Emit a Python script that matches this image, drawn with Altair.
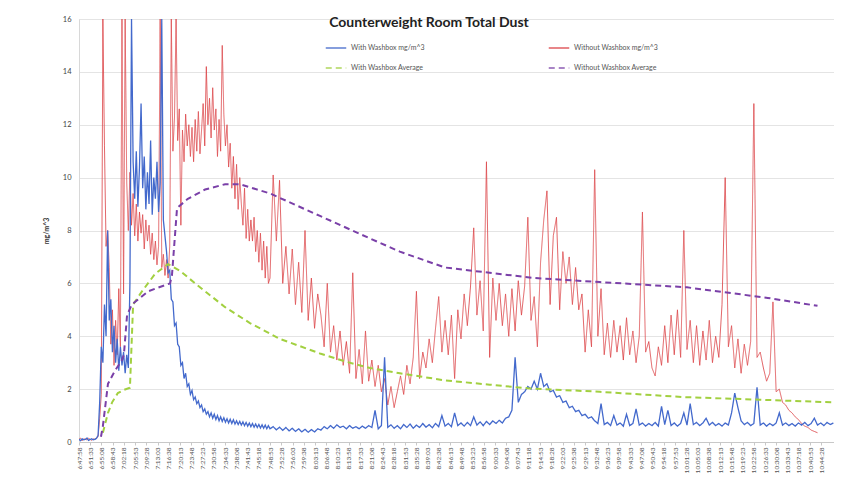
import altair as alt
import pandas as pd

chart_title = "Counterweight Room Total Dust"

# ---- tick labels (every 3 min 35 s) ----
tick_labels = [
    "6:47:58", "6:51:33", "6:55:08", "6:58:43", "7:02:18", "7:05:53", "7:09:28", "7:13:03",
    "7:16:38", "7:20:13", "7:23:48", "7:27:23", "7:30:58", "7:34:33", "7:38:08", "7:41:43",
    "7:45:18", "7:48:53", "7:52:28", "7:56:03", "7:59:38", "8:03:13", "8:06:48", "8:10:23",
    "8:13:58", "8:17:33", "8:21:08", "8:24:43", "8:28:18", "8:31:53", "8:35:28", "8:39:03",
    "8:42:38", "8:46:13", "8:49:48", "8:53:23", "8:56:58", "9:00:33", "9:04:08", "9:07:43",
    "9:11:18", "9:14:53", "9:18:28", "9:22:03", "9:25:38", "9:29:13", "9:32:48", "9:36:23",
    "9:39:58", "9:43:33", "9:47:08", "9:50:43", "9:54:18", "9:57:53", "10:01:28", "10:05:03",
    "10:08:38", "10:12:13", "10:15:48", "10:19:23", "10:22:58", "10:26:33", "10:30:08",
    "10:33:43", "10:37:18", "10:40:53", "10:44:28",
]
tick_step_s = 215

# readings were taken on a grid of ~1.014 min (every second reading in the first hour)
STEP_MIN = 1.014

# ---- Without Washbox (mg/m^3) ----
red_fine = [
    0.1, 0.15, 0.05, 0.12, 0.1, 0.08, 0.14, 0.1, 0.06, 0.12, 0.1, 0.15, 0.2,
    0.9, 1.8, 16, 11.2, 7.4, 8.0, 6.6,
    3.7, 5.0, 2.9, 4.6, 3.3, 5.8, 3.6,
    16, 5.6, 16, 9.8,
    8.0, 10.2, 8.2, 9.4, 7.8, 9.0, 7.6, 8.7, 7.9, 8.6, 7.3, 8.4, 7.6, 8.2, 7.1, 7.9, 6.9, 7.6, 6.7, 7.4,
    16, 6.6, 7.1, 6.3, 6.9, 6.2, 7.4, 16,
    11.0, 12.3, 16, 11.4, 12.6, 8.2, 11.8, 10.6, 12.4, 11.2, 12.0, 10.8, 11.9, 10.6, 12.2, 11.0,
    12.5, 10.9, 11.8, 12.8, 11.2, 14.2, 12.0, 13.0, 11.5, 13.4, 11.8, 12.6, 10.8, 12.2, 11.0, 15.0,
    12.4, 11.2, 12.0, 10.4, 11.3, 9.6, 10.8, 9.2, 10.5, 8.8, 10.0, 9.0, 8.2, 9.6, 7.7, 8.8, 7.6,
    8.4, 7.6, 8.5, 7.2, 8.0, 6.8, 7.9, 6.5, 7.6, 6.2, 7.4, 6.0,
]
red_coarse = [
    6.2, 10.1, 7.6, 9.9, 6.0, 7.4,
    5.6, 7.3, 5.2, 6.8, 4.9, 8.0, 4.6, 6.2, 4.3, 5.6,
    4.8, 3.6, 6.0, 3.4, 4.4, 3.1, 4.2, 2.9, 3.8, 2.6, 6.4, 2.4, 3.5, 2.2, 4.2, 2.3,
    3.1, 2.1, 2.9, 1.9, 2.4, 1.4, 2.1, 1.3, 1.9,
    2.5, 1.8, 2.9, 2.2, 3.2, 5.7, 2.4, 3.4,
    2.8, 3.9, 3.0, 4.3, 5.5, 3.4, 4.6, 3.3, 4.8, 2.4, 5.0, 3.9,
    5.6, 4.4, 5.9, 8.1, 4.8, 6.1, 4.2, 10.6,
    3.2, 6.2, 4.6, 6.0, 4.4, 5.6, 4.0, 5.8, 4.2, 6.1, 4.8, 5.9, 8.5, 4.6, 5.5,
    3.6, 6.8, 8.4, 9.5, 5.2, 7.8, 8.5, 5.0, 7.2, 6.0, 7.0, 5.2, 6.6, 5.0,
    5.6, 3.4, 5.0, 3.6, 10.3,
    4.0, 5.8, 3.3, 4.5, 3.2, 4.6, 3.4, 4.4, 3.1, 4.7, 3.3, 4.2, 3.0, 4.0, 8.7, 3.4, 3.8, 2.8, 2.5,
    3.6, 2.9, 4.4, 3.0, 4.8, 3.3, 5.0, 3.2, 8.0, 3.5, 4.6,
    3.0, 4.4, 2.9, 4.2, 3.1, 4.6, 3.0, 4.0, 3.2, 5.2, 10.0, 3.6, 4.4,
    2.8, 3.9, 2.6, 3.7, 2.9, 3.8, 12.8, 3.2, 3.4,
    2.8, 2.3, 2.6, 5.3, 1.9, 2.0, 1.5, 1.4,
    1.2, 1.1, 0.95, 0.85, 0.7, 0.6, 0.55, 0.45, 0.4, 0.35,
]

# ---- With Washbox (mg/m^3) ----
blue_fine = [
    0.1, 0.05, 0.12, 0.08, 0.1, 0.15, 0.06, 0.1, 0.12, 0.08, 0.1, 0.14, 0.25,
    1.5, 3.6, 3.0, 5.2, 4.0, 8.0, 4.6, 5.4, 3.4, 4.4, 3.0, 3.9, 2.7, 3.6, 2.9, 3.4, 2.6, 3.3, 2.8,
    6.0, 16, 10.6, 9.2, 11.0, 8.9, 10.4, 12.8, 9.6, 10.8, 8.8, 10.2, 9.0, 11.4, 8.6, 10.0, 9.2,
    10.6, 8.7, 9.8, 16, 8.4,
    7.8, 7.2, 6.4, 6.5, 5.4, 5.3, 4.4, 4.5, 3.7, 3.6, 2.9, 3.0, 2.4, 2.6, 2.1, 2.2, 1.8, 1.95,
    1.6, 1.7, 1.45, 1.55, 1.3, 1.4, 1.15, 1.25, 1.05, 1.15,
    0.95, 1.1, 0.9, 1.05, 0.85, 1.0, 0.8, 0.95, 0.78, 0.92, 0.75, 0.88, 0.72, 0.86, 0.7, 0.84,
    0.68, 0.8, 0.66, 0.78, 0.64, 0.76, 0.62, 0.74, 0.6, 0.72, 0.58, 0.7, 0.56, 0.68, 0.55, 0.66,
    0.53, 0.65, 0.52, 0.64, 0.5, 0.62,
]
blue_coarse = [
    0.5, 0.58, 0.46, 0.56, 0.44, 0.55, 0.42, 0.52, 0.4, 0.5, 0.38, 0.48, 0.37, 0.47, 0.38, 0.5,
    0.45, 0.58, 0.5, 0.62, 0.52, 0.65, 0.55, 0.6, 0.5, 0.62, 0.52, 0.58, 0.5, 0.6, 0.52, 0.62,
    0.55, 1.2, 0.5, 0.62, 3.2, 0.55, 0.65, 0.52, 0.62, 0.5, 0.66, 0.55, 0.68, 0.52, 0.64, 0.55,
    0.7, 0.56, 0.66, 0.54, 0.7, 0.58, 1.0, 0.6, 0.7, 0.58, 1.1, 0.62, 0.72, 0.6, 0.74, 0.62,
    0.95, 0.64, 0.76, 0.62, 0.78, 0.66, 0.8, 0.7, 0.82, 0.72, 0.9,
    0.95, 1.2, 3.2, 1.5, 1.8, 1.9, 2.1, 2.0, 2.3, 2.0, 2.6, 2.1, 2.2, 1.9, 1.95, 1.7, 1.75,
    1.5, 1.55, 1.3, 1.35, 1.15, 1.2, 1.0, 1.05, 0.9, 0.95, 0.8,
    0.7, 1.45, 0.66, 0.74, 0.62, 1.0, 0.64, 0.72, 0.6, 1.05,
    0.62, 0.7, 1.25, 0.64, 0.72, 0.6, 0.7, 0.62, 0.74, 0.6,
    1.35, 0.66, 1.2, 0.62, 0.72, 0.6, 0.7, 1.1, 0.64, 1.45,
    0.66, 0.74, 0.62, 0.72, 0.9, 0.64, 0.74, 0.62, 0.7, 0.6,
    0.72, 0.64, 1.1, 1.85, 1.3, 0.8, 0.66, 0.74, 0.62, 0.7,
    2.07, 0.64, 0.72, 0.6, 0.7, 0.62, 0.72, 1.1, 0.64, 0.72,
    0.62, 0.7, 0.6, 0.72, 0.64, 0.74, 0.62, 0.7, 0.9, 0.64,
    0.72, 0.62, 0.74, 0.66, 0.72,
]

# ---- running averages (position in reading steps, mg/m^3) ----
green_t = [7.5, 9.1, 10.4, 12.2, 14.1, 16.0, 17.0, 19.8, 23.9, 28.0, 32.0, 37.0, 45.9, 53.7,
           63.1, 75.7, 83.5, 91.4, 100.8, 115.0, 129.0, 141.0, 163.6, 189.7, 213.9, 236.5]
green_v = [0.35, 1.1, 1.5, 1.85, 1.97, 2.05, 5.2, 5.7, 6.36, 6.73, 6.45, 5.95, 5.1, 4.5,
           3.9, 3.35, 3.05, 2.8, 2.6, 2.33, 2.17, 2.03, 1.9, 1.7, 1.6, 1.5]
purple_t = [6.9, 7.5, 9.1, 11.3, 13.5, 14.1, 15.1, 16.6, 21.7, 28.6, 29.2, 30.8, 34.2, 39.6,
            45.9, 50.6, 60.0, 75.7, 91.4, 100.8, 115.0, 143.2, 163.6, 191.0, 216.4, 232.0]
purple_v = [0.2, 0.6, 2.2, 2.7, 3.1, 3.3, 4.8, 5.2, 5.7, 6.0, 6.3, 8.85, 9.2, 9.55,
            9.75, 9.75, 9.4, 8.55, 7.7, 7.2, 6.6, 6.2, 6.05, 5.85, 5.45, 5.15]

names = ["With Washbox mg/m^3", "Without Washbox mg/m^3",
         "With Washbox Average", "Without Washbox Average"]
colors = ["#4369cc", "#dc4448", "#a2d040", "#7a40a8"]
dashes = [[1, 0], [1, 0], [6, 4], [6, 4]]


def grid_steps(fine, coarse):
    return [i * 0.5 for i in range(len(fine))] + [60 + i for i in range(len(coarse))]


series_data = [
    (names[0], grid_steps(blue_fine, blue_coarse), blue_fine + blue_coarse),
    (names[1], grid_steps(red_fine, red_coarse), red_fine + red_coarse),
    (names[2], green_t, green_v),
    (names[3], purple_t, purple_v),
]
rows = []
for name, ts, vs in series_data:
    for t, v in zip(ts, vs):
        rows.append({"sec": t * STEP_MIN * 60.0, "v": v, "series": name})
df = pd.DataFrame(rows)

label_expr = "[" + ",".join("'%s'" % s for s in tick_labels) + "][round(datum.value/%d)]" % tick_step_s

legend = alt.Legend(
    title=None, orient="none", legendX=246, legendY=18, direction="horizontal",
    columns=2, columnPadding=120, rowPadding=6, padding=0,
    symbolType="stroke", symbolSize=420, symbolStrokeWidth=1.5,
    labelFont="Lato", labelFontSize=7, labelColor="#555", labelOffset=4,
)

x_enc = alt.X(
    "sec:Q",
    scale=alt.Scale(domain=[0, 14430], nice=False, zero=False),
    axis=alt.Axis(
        values=[i * tick_step_s for i in range(len(tick_labels))],
        labelExpr=label_expr, labelAngle=270, labelFontSize=6.5, labelFont="Lato",
        labelColor="#555", labelFlush=False, labelOverlap=False, labelPadding=2,
        grid=False, ticks=True, tickSize=3, tickColor="#c8c8c8", domainColor="#c8c8c8",
        title=None,
    ),
)
y_enc = alt.Y(
    "v:Q",
    scale=alt.Scale(domain=[0, 16], nice=False),
    axis=alt.Axis(
        values=list(range(0, 17, 2)), grid=True, gridColor="#e4e4e4", domainColor="#d8d8d8",
        ticks=False, labelPadding=8, labelFontSize=7.5, labelFont="Lato", labelColor="#444",
        title="mg/m^3", titleFontSize=7, titleFont="Lato", titleFontWeight="bold",
        titleColor="#333", titlePadding=13,
    ),
)
color_enc = alt.Color("series:N", scale=alt.Scale(domain=names, range=colors), legend=legend)
dash_enc = alt.StrokeDash("series:N", scale=alt.Scale(domain=names, range=dashes), legend=legend)

base = alt.Chart(df).encode(x=x_enc, y=y_enc, color=color_enc, strokeDash=dash_enc)

red_layer = base.transform_filter(alt.datum.series == names[1]).mark_line(strokeWidth=1, opacity=0.85, clip=True)
blue_layer = base.transform_filter(alt.datum.series == names[0]).mark_line(strokeWidth=1.3, clip=True)
green_layer = base.transform_filter(alt.datum.series == names[2]).mark_line(strokeWidth=2, clip=True)
purple_layer = base.transform_filter(alt.datum.series == names[3]).mark_line(strokeWidth=2, clip=True)

# chart title, drawn inside the top of the plot area as in the reference
title_layer = alt.Chart(pd.DataFrame({"label": [chart_title]})).mark_text(
    font="Lato", fontSize=14, fontWeight="bold", color="#222",
    align="center", baseline="alphabetic",
).encode(text="label:N", x=alt.value(350), y=alt.value(8))

chart = alt.layer(red_layer, blue_layer, green_layer, purple_layer, title_layer).properties(
    width=755,
    height=423,
    autosize=alt.AutoSizeParams(type="none"),
    padding={"left": 71, "top": 11, "right": 0, "bottom": 36},
).configure_view(stroke=None).configure(background="white")

chart.save("out.html", embed_options={"renderer": "svg", "actions": False})
